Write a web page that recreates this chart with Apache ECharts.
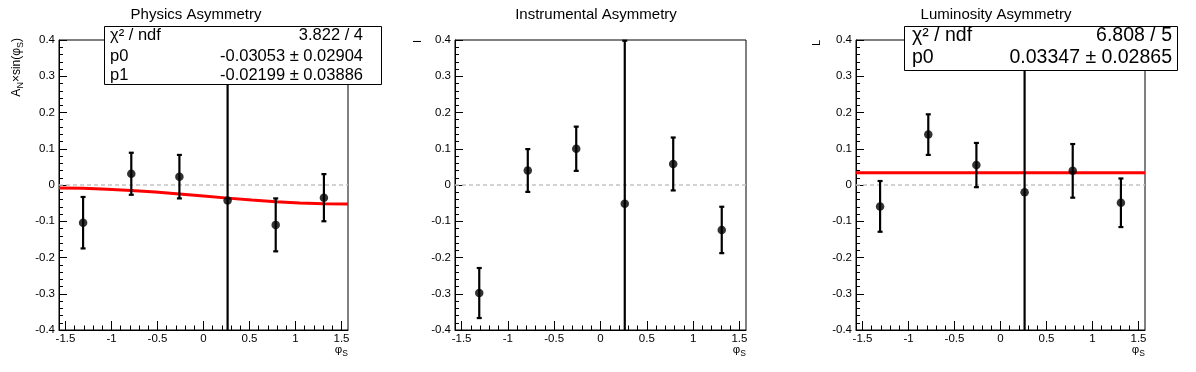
<!DOCTYPE html>
<html>
<head>
<meta charset="utf-8">
<script src="https://cdn.jsdelivr.net/npm/echarts@6/dist/echarts.min.js"></script>
<style>
html,body{margin:0;padding:0;background:#fff;}
#c{width:1196px;height:372px;}
</style>
</head>
<body>
<div id="c"></div>
<script>
// ---------------- data ----------------
const panelTitles = ['Physics Asymmetry', 'Instrumental Asymmetry', 'Luminosity Asymmetry'];
const phiS = [-1.309, -0.785, -0.262, 0.262, 0.785, 1.309];

const physVals = [-0.104, 0.031, 0.023, -0.043, -0.110, -0.035];
const physErrs = [0.071, 0.058, 0.060, 0.450, 0.073, 0.065];
const instVals = [-0.298, 0.040, 0.100, -0.052, 0.058, -0.124];
const instErrs = [0.069, 0.059, 0.061, 0.450, 0.073, 0.064];
const lumiVals = [-0.059, 0.139, 0.055, -0.020, 0.039, -0.049];
const lumiErrs = [0.070, 0.056, 0.061, 0.450, 0.074, 0.067];

// fitted curves
const physFitX = [-1.5708, -1.309, -1.047, -0.785, -0.524, -0.262, 0, 0.262, 0.524, 0.785, 1.047, 1.309, 1.5708];
const physFitY = [-0.0085, -0.0093, -0.0115, -0.0150, -0.0195, -0.0248, -0.0305, -0.0362, -0.0415, -0.0461, -0.0496, -0.0518, -0.0525];
const lumiFitX = [-1.5708, 1.5708];
const lumiFitY = [0.03347, 0.03347];

const physStats = [['χ² / ndf', '3.822 / 4'], ['p0', '-0.03053 ± 0.02904'], ['p1', '-0.02199 ± 0.03886']];
const lumiStats = [['χ² / ndf', '6.808 / 5'], ['p0', '0.03347 ± 0.02865']];

const xMin = -1.5708, xMax = 1.5708;
const xTickValues = [-1.5, -1, -0.5, 0, 0.5, 1, 1.5];
const xTickLabels = ['-1.5', '-1', '-0.5', '0', '0.5', '1', '1.5'];
const xMinorValues = [-1.4, -1.3, -1.2, -1.1, -0.9, -0.8, -0.7, -0.6, -0.4, -0.3, -0.2, -0.1,
                      0.1, 0.2, 0.3, 0.4, 0.6, 0.7, 0.8, 0.9, 1.1, 1.2, 1.3, 1.4];
const yMin = -0.4, yMax = 0.4, yStep = 0.1;
const yTickLabels = ['-0.4', '-0.3', '-0.2', '-0.1', '0', '0.1', '0.2', '0.3', '0.4'];

// ---------------- layout / style ----------------
const FONT = '"Liberation Sans", Arial, Helvetica, sans-serif';
const grids = [
  {left: 59, top: 40, width: 289, height: 290},
  {left: 455, top: 40, width: 291, height: 290},
  {left: 856, top: 40, width: 289, height: 290}
];

function xLabel(v) {
  let best = 0;
  for (let i = 0; i < xTickValues.length; i++) {
    if (Math.abs(xTickValues[i] - v) < Math.abs(xTickValues[best] - v)) best = i;
  }
  return xTickLabels[best];
}
function yLabel(v) {
  return yTickLabels[Math.round((v - yMin) / yStep)];
}

const xAxes = [], yAxes = [];
grids.forEach((g, i) => {
  xAxes.push({
    type: 'value', gridIndex: i, min: xMin, max: xMax, position: 'bottom',
    axisLine: {show: true, onZero: false, lineStyle: {color: '#000', width: 1}},
    axisTick: {show: true, inside: true, length: 9, customValues: xTickValues, lineStyle: {color: '#000', width: 1}},
    axisLabel: {show: true, customValues: xTickValues, formatter: xLabel, color: '#000',
                fontFamily: FONT, fontSize: 11.5, margin: 3},
    splitLine: {show: false}
  });
  xAxes.push({
    type: 'value', gridIndex: i, min: xMin, max: xMax, position: 'bottom',
    axisLine: {show: false, onZero: false},
    axisTick: {show: true, inside: true, length: 4.5, customValues: xMinorValues, lineStyle: {color: '#000', width: 1}},
    axisLabel: {show: false},
    splitLine: {show: false}
  });
  yAxes.push({
    type: 'value', gridIndex: i, min: yMin, max: yMax, interval: yStep, position: 'left',
    axisLine: {show: true, onZero: false, lineStyle: {color: '#000', width: 1}},
    axisTick: {show: true, inside: true, length: 8, lineStyle: {color: '#000', width: 1}},
    minorTick: {show: true, splitNumber: 5, length: 4, lineStyle: {color: '#000', width: 1}},
    axisLabel: {formatter: yLabel, color: '#000', fontFamily: FONT, fontSize: 11.5, margin: 4},
    splitLine: {show: false}, minorSplitLine: {show: false}
  });
});

function errRender(params, api) {
  const x = api.value(0), y = api.value(1), e = api.value(2);
  const cs = params.coordSys;
  const top = cs.y, bot = cs.y + cs.height;
  const hi = api.coord([x, y + e]);
  const lo = api.coord([x, y - e]);
  const y1 = Math.max(hi[1], top), y2 = Math.min(lo[1], bot);
  const st = {stroke: '#000', lineWidth: 2.2};
  const ch = [{type: 'line', shape: {x1: hi[0], y1: y1, x2: hi[0], y2: y2}, style: st}];
  if (hi[1] >= top - 1) ch.push({type: 'line', shape: {x1: hi[0] - 2.5, y1: hi[1], x2: hi[0] + 2.5, y2: hi[1]}, style: st});
  if (lo[1] <= bot + 1) ch.push({type: 'line', shape: {x1: lo[0] - 2.5, y1: lo[1], x2: lo[0] + 2.5, y2: lo[1]}, style: st});
  return {type: 'group', children: ch};
}

const panelData = [[physVals, physErrs], [instVals, instErrs], [lumiVals, lumiErrs]];
const series = [];
panelData.forEach((pd, i) => {
  const [vals, errs] = pd;
  series.push({
    type: 'custom', xAxisIndex: 2 * i, yAxisIndex: i, renderItem: errRender, z: 3,
    data: phiS.map((x, k) => [x, vals[k], errs[k]]), silent: true
  });
  series.push({
    type: 'scatter', xAxisIndex: 2 * i, yAxisIndex: i, symbol: 'circle', symbolSize: 8.5, z: 4,
    itemStyle: {color: '#000'},
    data: phiS.map((x, k) => [x, vals[k]]),
    markLine: {
      silent: true, symbol: 'none', label: {show: false}, z: 1,
      lineStyle: {type: [4, 3], color: '#c4c4c4', width: 1.5},
      data: [{yAxis: 0}]
    }
  });
});
series.push({
  type: 'line', xAxisIndex: 0, yAxisIndex: 0, showSymbol: false, z: 2, smooth: false,
  lineStyle: {color: '#ff0000', width: 3},
  data: physFitX.map((x, k) => [x, physFitY[k]])
});
series.push({
  type: 'line', xAxisIndex: 4, yAxisIndex: 2, showSymbol: false, z: 2,
  lineStyle: {color: '#ff0000', width: 3},
  data: lumiFitX.map((x, k) => [x, lumiFitY[k]])
});

// ---------------- graphics (titles, stat boxes, axis titles) ----------------
const graphic = [];
const titleCenters = [196, 596, 996];
panelTitles.forEach((t, i) => {
  graphic.push({type: 'text', x: titleCenters[i], y: 15, z: 50,
    style: {text: t, fontFamily: FONT, fontSize: 15, fill: '#000', align: 'center', verticalAlign: 'middle'}});
});

function statBox(stats, box, leftX, rightX, rowYs, fs) {
  graphic.push({type: 'rect', z: 60, shape: {x: box[0], y: box[1], width: box[2], height: box[3]},
    style: {fill: '#fff', stroke: '#000', lineWidth: 1}});
  stats.forEach((row, k) => {
    graphic.push({type: 'text', z: 61, x: leftX, y: rowYs[k],
      style: {text: row[0], fontFamily: FONT, fontSize: fs, fill: '#000', align: 'left', verticalAlign: 'middle'}});
    graphic.push({type: 'text', z: 61, x: rightX, y: rowYs[k],
      style: {text: row[1], fontFamily: FONT, fontSize: fs, fill: '#000', align: 'right', verticalAlign: 'middle'}});
  });
}
statBox(physStats, [104.5, 26.5, 277, 58], 110, 363, [35, 56, 75], 16.5);
statBox(lumiStats, [904.5, 26.5, 273, 44], 912, 1172, [36, 58], 19.5);

// y-axis titles
graphic.push({type: 'text', x: 17, y: 38, rotation: Math.PI / 2, z: 50,
  style: {text: '{a|A}{s|N}{a|×sin(φ}{s|S}{a|)}', align: 'right', verticalAlign: 'middle', fill: '#000',
    rich: {a: {fontFamily: FONT, fontSize: 12, fill: '#000'},
           s: {fontFamily: FONT, fontSize: 9, fill: '#000', padding: [7, 0, 0, 0]}}}});
graphic.push({type: 'text', x: 418, y: 40, rotation: Math.PI / 2, z: 50,
  style: {text: 'I', fontFamily: FONT, fontSize: 11, fill: '#000', align: 'right', verticalAlign: 'middle'}});
graphic.push({type: 'text', x: 817, y: 40, rotation: Math.PI / 2, z: 50,
  style: {text: 'L', fontFamily: FONT, fontSize: 11, fill: '#000', align: 'right', verticalAlign: 'middle'}});

// x-axis titles
grids.forEach((g) => {
  graphic.push({type: 'text', x: g.left + g.width, y: 350, z: 50,
    style: {text: '{a|φ}{s|S}', align: 'right', verticalAlign: 'middle', fill: '#000',
      rich: {a: {fontFamily: FONT, fontSize: 11.5, fill: '#000'},
             s: {fontFamily: FONT, fontSize: 8.5, fill: '#000', padding: [8, 0, 0, 0]}}}});
});

const chart = echarts.init(document.getElementById('c'), null, {renderer: 'canvas'});
chart.setOption({
  animation: false,
  backgroundColor: '#fff',
  grid: grids.map(g => Object.assign({show: true, borderColor: '#000', borderWidth: 1, backgroundColor: 'transparent'}, g)),
  xAxis: xAxes,
  yAxis: yAxes,
  series: series,
  graphic: graphic
});
</script>
</body>
</html>
